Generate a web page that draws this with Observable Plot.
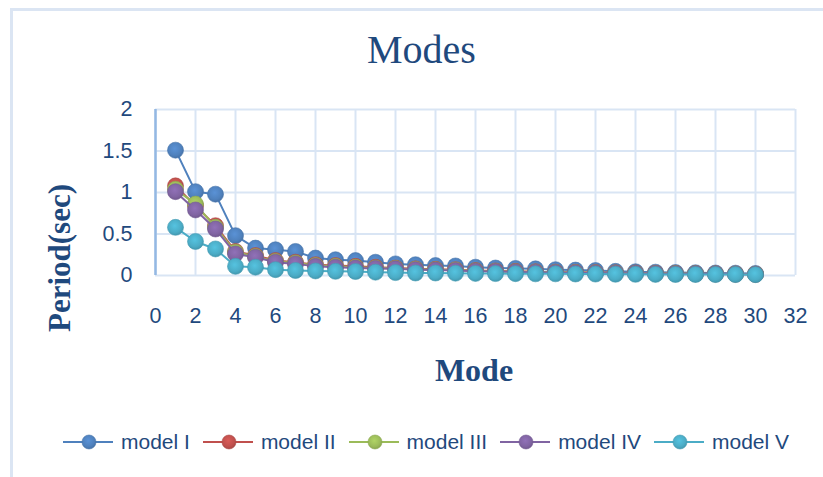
<!DOCTYPE html>
<html>
<head>
<meta charset="utf-8">
<script src="https://cdn.jsdelivr.net/npm/d3@7"></script>
<script src="https://cdn.jsdelivr.net/npm/@observablehq/plot@0.6"></script>
<style>
  html, body { margin: 0; padding: 0; background: #ffffff; }
  #wrap { position: relative; width: 823px; height: 477px; overflow: hidden; background: #fff; }
  #border { position: absolute; left: 10px; top: 8px; width: 900px; height: 600px;
            border-left: 3px solid #dbe5f3; border-top: 3px solid #dbe5f3; }
  .lbl { position: absolute; color: #1f497d; white-space: nowrap; line-height: 1; }
  #title { left: 0; width: 843px; text-align: center; top: 26px;
           font: 40px "Liberation Serif", "Times New Roman", serif; }
  #ylab { left: 60px; top: 258px; transform: translate(-50%, -50%) rotate(-90deg);
          font: bold 31px "Liberation Serif", "Times New Roman", serif; }
  #xlab { left: 474px; top: 352px; transform: translateX(-50%);
          font: bold 32px "Liberation Serif", "Times New Roman", serif; }
  #chart { position: absolute; left: 0; top: 0; }
  #legend { position: absolute; left: 63px; top: 430px; display: flex; align-items: center;
            font: 21px "Liberation Sans", Arial, sans-serif; color: #1f497d; }
  .item { display: flex; align-items: center; margin-right: 13px; }
  .item svg { display: block; margin-right: 8px; }
</style>
</head>
<body>
<div id="wrap">
  <div id="border"></div>
  <div id="chart"></div>
  <div class="lbl" id="title">Modes</div>
  <div class="lbl" id="ylab">Period(sec)</div>
  <div class="lbl" id="xlab">Mode</div>
  <div id="legend"></div>
</div>
<script>
// ---- data ----
const modes = [1,2,3,4,5,6,7,8,9,10,11,12,13,14,15,16,17,18,19,20,21,22,23,24,25,26,27,28,29,30];
const modelI   = [1.51,1.01,0.98,0.48,0.33,0.31,0.29,0.21,0.19,0.18,0.16,0.14,0.13,0.12,0.115,0.10,0.09,0.085,0.08,0.07,0.065,0.06,0.05,0.045,0.04,0.036,0.033,0.03,0.028,0.025];
const modelII  = [1.08,0.84,0.60,0.29,0.24,0.18,0.16,0.13,0.12,0.11,0.10,0.09,0.08,0.075,0.07,0.06,0.055,0.05,0.045,0.04,0.038,0.035,0.032,0.03,0.027,0.025,0.022,0.02,0.018,0.016];
const modelIII = [1.04,0.86,0.58,0.28,0.23,0.17,0.15,0.12,0.11,0.10,0.09,0.085,0.075,0.07,0.065,0.055,0.05,0.045,0.042,0.038,0.035,0.032,0.03,0.028,0.025,0.023,0.021,0.019,0.017,0.015];
const modelIV  = [1.01,0.79,0.56,0.26,0.22,0.16,0.14,0.11,0.10,0.09,0.085,0.08,0.07,0.065,0.06,0.052,0.048,0.043,0.04,0.036,0.033,0.03,0.028,0.026,0.024,0.022,0.02,0.018,0.016,0.014];
const modelV   = [0.58,0.41,0.32,0.11,0.10,0.07,0.06,0.055,0.05,0.048,0.04,0.035,0.03,0.03,0.028,0.025,0.023,0.022,0.02,0.02,0.018,0.017,0.015,0.014,0.013,0.012,0.012,0.011,0.011,0.01];
const seriesNames = ["model I","model II","model III","model IV","model V"];
const xTicks = [0,2,4,6,8,10,12,14,16,18,20,22,24,26,28,30,32];
const yTicks = [0,0.5,1,1.5,2];

// ---- styles ----
const colors = ["#4f81bd","#c0504d","#9bbb59","#8064a2","#4bacc6"];
const allSeries = [modelI, modelII, modelIII, modelIV, modelV];

const gridColor = "#d9e5f4";
const seriesMarks = [];
allSeries.forEach((vals, i) => {
  const rows = modes.map((m, j) => ({mode: m, period: vals[j], series: seriesNames[i]}));
  seriesMarks.push(Plot.line(rows, {x: "mode", y: "period", stroke: colors[i], strokeWidth: 2}));
  seriesMarks.push(Plot.dot(rows, {x: "mode", y: "period", r: 8, fill: `url(#mg${i})`, stroke: d3.color(colors[i]).darker(0.3).formatHex(), strokeWidth: 0.6}));
});

const chart = Plot.plot({
  width: 823,
  height: 400,
  marginLeft: 155,
  marginRight: 28,
  marginTop: 109,
  marginBottom: 125,
  style: {background: "transparent", color: "#1f497d", fontSize: "21.5px", fontFamily: "'Liberation Sans', Arial, sans-serif"},
  x: {domain: [0, 32]},
  y: {domain: [0, 2]},
  marks: [
    Plot.gridX(xTicks, {stroke: gridColor, strokeOpacity: 1, strokeWidth: 2}),
    Plot.gridY(yTicks, {stroke: gridColor, strokeOpacity: 1, strokeWidth: 2}),
    Plot.ruleX([0], {stroke: "#94b8e3", strokeWidth: 2.5}),
    Plot.axisX({ticks: xTicks, tickSize: 0, tickPadding: 32, tickFormat: d => String(d), label: null}),
    Plot.axisY({ticks: yTicks, tickSize: 0, tickPadding: 23, tickFormat: d => String(d), label: null}),
    ...seriesMarks
  ]
});

// radial gradients for the markers
const defs = d3.create("svg:defs");
colors.forEach((c, i) => {
  const g = defs.append("radialGradient").attr("id", `mg${i}`).attr("cx", "45%").attr("cy", "40%").attr("r", "60%");
  g.append("stop").attr("offset", "0%").attr("stop-color", d3.color(c).brighter(0.35).formatHex());
  g.append("stop").attr("offset", "70%").attr("stop-color", c);
  g.append("stop").attr("offset", "100%").attr("stop-color", d3.color(c).darker(0.35).formatHex());
});
chart.insertBefore(defs.node(), chart.firstChild);
document.getElementById("chart").appendChild(chart);

// legend
const legend = d3.select("#legend");
seriesNames.forEach((name, i) => {
  const item = legend.append("div").attr("class", "item");
  const s = item.append("svg").attr("width", 50).attr("height", 20);
  s.append("line").attr("x1", 0).attr("x2", 50).attr("y1", 10).attr("y2", 10)
    .attr("stroke", colors[i]).attr("stroke-width", 2);
  s.append("circle").attr("cx", 26).attr("cy", 10).attr("r", 7)
    .attr("fill", `url(#mg${i})`).attr("stroke", d3.color(colors[i]).darker(0.3).formatHex()).attr("stroke-width", 0.6);
  item.append("span").text(name);
});
</script>
</body>
</html>
